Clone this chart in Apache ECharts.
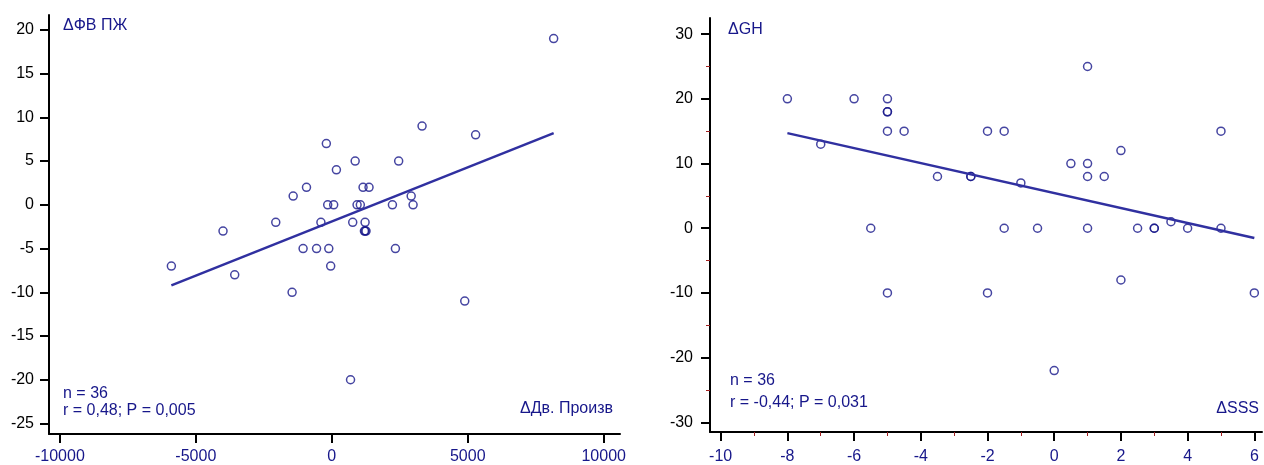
<!DOCTYPE html>
<html>
<head>
<meta charset="utf-8">
<script src="https://cdn.jsdelivr.net/npm/echarts@6/dist/echarts.min.js"></script>
<style>
html, body { margin: 0; padding: 0; background: #fff; }
#chart { width: 1264px; height: 465px; }
</style>
</head>
<body>
<div id="chart"></div>
<script>
// левый график: ΔДв. Произв vs ΔФВ ПЖ
var leftX = [-4000, -2060, -1420, -930, 8160, 3320, 5290, -200, 860, 2460, 170, 1150, 1370,
  -150, 70, 930, 1050, 2230, 2920, 2990, -400, 770, 1225, 1225, 1260, 1200,
  -5900, -3570, -1055, -560, -1460, -110, -40, 2340, 4890, 690];
var leftY = [-3, -2, 1, 2, 19, 9, 8, 7, 5, 5, 4, 2, 2,
  0, 0, 0, 0, 0, 1, 0, -2, -2, -2, -3, -3, -3,
  -7, -8, -5, -5, -10, -5, -7, -5, -11, -20];
var leftFitX = [-5900, 8160];
var leftFitY = [-9.2, 8.2];
var leftTicksX = [-10000, -5000, 0, 5000, 10000];
var leftTicksY = [-25, -20, -15, -10, -5, 0, 5, 10, 15, 20];

// правый график: ΔSSS vs ΔGH
var rightX = [-8, -7, -6, -5, -5, -5, -5, -4.5, -3.5, -2.5, -2.5, -5.5,
  1, -2, -1.5, 5, 2, 0.5, 1, 1, 1.5, -1, -1.5, -0.5, 1, 2.5, 3, 3, 3.5, 4, 5,
  -5, -2, 2, 0, 6];
var rightY = [20, 13, 20, 20, 18, 18, 15, 15, 8, 8, 8, 0,
  25, 15, 15, 15, 12, 10, 10, 8, 8, 7, 0, 0, 0, 0, 0, 0, 1, 0, 0,
  -10, -10, -8, -22, -10];
var rightFitX = [-8, 6];
var rightFitY = [14.7, -1.5];
var rightTicksX = [-10, -8, -6, -4, -2, 0, 2, 4, 6];
var rightTicksY = [-30, -20, -10, 0, 10, 20, 30];
var rightMinorX = [-9, -7, -5, -3, -1, 1, 3, 5];
var rightMinorY = [-25, -15, -5, 5, 15, 25];

function pairs(xs, ys) {
  return xs.map(function (x, i) { return [x, ys[i]]; });
}

var navy = '#17178a';
var font = '"Liberation Sans", Arial, sans-serif';

function mainAxis(gridIndex, min, max, ticks, labelColor, isX, margin) {
  return {
    type: 'value', gridIndex: gridIndex, min: min, max: max,
    position: isX ? 'bottom' : 'left',
    splitLine: { show: false },
    axisLine: { show: true, onZero: false, lineStyle: { color: '#000', width: 2 } },
    axisTick: { show: true, length: 9, customValues: ticks, lineStyle: { color: '#000', width: 2 } },
    axisLabel: {
      show: true, customValues: ticks, color: labelColor, fontSize: 16, fontFamily: font, margin: margin,
      formatter: function (v) { return String(v); }
    }
  };
}
function minorAxis(gridIndex, min, max, ticks, isX) {
  return {
    type: 'value', gridIndex: gridIndex, min: min, max: max,
    position: isX ? 'bottom' : 'left',
    splitLine: { show: false },
    axisLine: { show: false, onZero: false },
    axisTick: { show: true, length: 4, customValues: ticks, lineStyle: { color: '#a02020', width: 1 } },
    axisLabel: { show: false, customValues: ticks }
  };
}

var chart = echarts.init(document.getElementById('chart'));
var option = {
  animation: false,
  grid: [
    { left: 49, top: 15, width: 571, height: 421 },
    { left: 710, top: 18, width: 552, height: 414 }
  ],
  xAxis: [
    mainAxis(0, -10400, 10600, leftTicksX, navy, true, 15),
    mainAxis(1, -10.32, 6.23, rightTicksX, navy, true, 17),
    minorAxis(1, -10.32, 6.23, rightMinorX, true)
  ],
  yAxis: [
    mainAxis(0, -26.2, 21.7, leftTicksY, '#000', false, 15),
    mainAxis(1, -31.5, 32.5, rightTicksY, '#000', false, 17),
    minorAxis(1, -31.5, 32.5, rightMinorY, false)
  ],
  graphic: [
    { type: 'text', left: 63, top: 18, style: { text: 'ΔФВ ПЖ', fill: navy, font: '16px ' + font } },
    { type: 'text', left: 63, top: 386, style: { text: 'n = 36', fill: navy, font: '16px ' + font } },
    { type: 'text', left: 63, top: 403, style: { text: 'r = 0,48; P = 0,005', fill: navy, font: '16px ' + font } },
    { type: 'text', right: 651, top: 401, style: { text: 'ΔДв. Произв', fill: navy, font: '16px ' + font } },
    { type: 'text', left: 728, top: 22, style: { text: 'ΔGH', fill: navy, font: '16px ' + font } },
    { type: 'text', left: 730, top: 373, style: { text: 'n = 36', fill: navy, font: '16px ' + font } },
    { type: 'text', left: 730, top: 395, style: { text: 'r = -0,44; P = 0,031', fill: navy, font: '16px ' + font } },
    { type: 'text', right: 5, top: 401, style: { text: 'ΔSSS', fill: navy, font: '16px ' + font } }
  ],
  series: [
    {
      type: 'line', xAxisIndex: 0, yAxisIndex: 0, data: pairs(leftFitX, leftFitY),
      symbol: 'none', lineStyle: { color: '#3030a0', width: 2.5 }
    },
    {
      type: 'scatter', xAxisIndex: 0, yAxisIndex: 0, data: pairs(leftX, leftY),
      symbol: 'circle', symbolSize: 8,
      itemStyle: { color: 'rgba(0,0,0,0)', borderColor: navy, borderWidth: 1.5 }
    },
    {
      type: 'line', xAxisIndex: 1, yAxisIndex: 1, data: pairs(rightFitX, rightFitY),
      symbol: 'none', lineStyle: { color: '#3030a0', width: 2.5 }
    },
    {
      type: 'scatter', xAxisIndex: 1, yAxisIndex: 1, data: pairs(rightX, rightY),
      symbol: 'circle', symbolSize: 8,
      itemStyle: { color: 'rgba(0,0,0,0)', borderColor: navy, borderWidth: 1.5 }
    }
  ]
};
chart.setOption(option);
</script>
</body>
</html>
